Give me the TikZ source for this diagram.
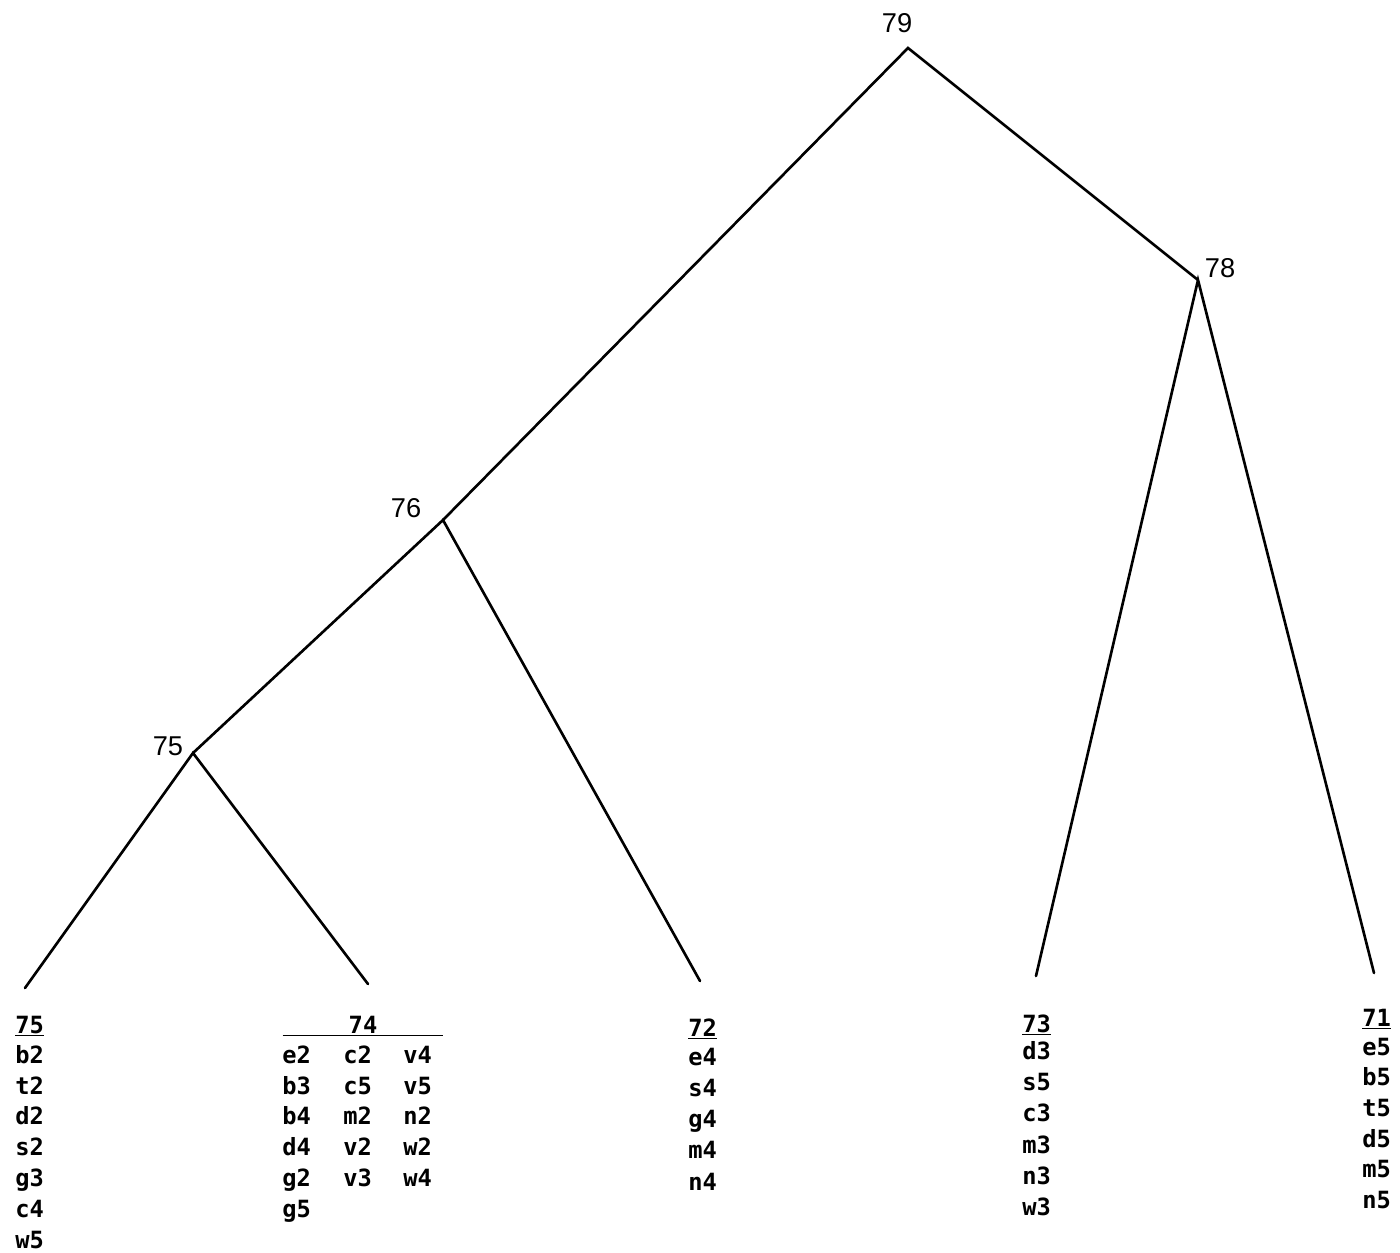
\documentclass[tikz,border=0pt]{standalone}
\usepackage{fontspec}
\setmainfont{Liberation Sans}
\newfontfamily\dotfont{DejaVu Sans Mono}
\begin{document}
\begin{tikzpicture} [
        x=0.02cm, y=-0.02cm,
        branch/.style={line width=1.5pt, line cap=round},
        lvllabel/.style={font=\fontsize{15.5}{18}\selectfont, inner sep=0pt},
        item/.style={font=\dotfont\bfseries\fontsize{13.5}{16}\selectfont,
            inner sep=0pt, text height=9.5pt, text depth=0pt, anchor=west},
        head/.style={item},
        uline/.style={line width=1.1pt}
    ]
    \useasboundingbox (0,0) rectangle (1400,1252);

        % Verzweigungspunkte, 1 Einheit = 1 Pixel

    \coordinate (n79) at (908,48);
    \coordinate (n78) at (1198,280);
    \coordinate (n76) at (443,520);
    \coordinate (n75) at (193,753);
    \coordinate (leaf75) at (25,988);
    \coordinate (leaf74) at (368,984);
    \coordinate (leaf72) at (700,981);
    \coordinate (leaf73) at (1036,976);
    \coordinate (leaf71) at (1374,973);

    \draw[branch] (leaf75) -- (n75) -- (leaf74);
    \draw[branch] (n75) -- (n76) -- (leaf72);
    \draw[branch] (n76) -- (n79) -- (n78);
    \draw[branch] (leaf73) -- (n78) -- (leaf71);

    \node[lvllabel] (t79) at (897,23) {79};
    \node[lvllabel] (t78) at (1220,268) {78};
    \node[lvllabel] (t76) at (406,508) {76};
    \node[lvllabel] (t75) at (168,746) {75};

        % Gruppen unter den Blaettern

    \node[head] (h75) at (15,1025) {75};
    \draw[uline] ([yshift=-1pt]h75.south west) -- ([yshift=-1pt]h75.south east);
    \foreach \t [count=\i] in {b2,t2,d2,s2,g3,c4,w5}
        \node[item] (c75-\i) at (15,{1055+30.8*(\i-1)}) {\t};

    \node[head, anchor=center, minimum width=3.2cm] (h74) at (363,1025) {74};
    \draw[uline] ([yshift=-1pt]h74.south west) -- ([yshift=-1pt]h74.south east);
    \foreach \t [count=\i] in {e2,b3,b4,d4,g2,g5}
        \node[item] (c74a-\i) at (282,{1055+30.8*(\i-1)}) {\t};
    \foreach \t [count=\i] in {c2,c5,m2,v2,v3}
        \node[item] (c74b-\i) at (343,{1055+30.8*(\i-1)}) {\t};
    \foreach \t [count=\i] in {v4,v5,n2,w2,w4}
        \node[item] (c74c-\i) at (403,{1055+30.8*(\i-1)}) {\t};

    \node[head] (h72) at (688,1028) {72};
    \draw[uline] ([yshift=-1pt]h72.south west) -- ([yshift=-1pt]h72.south east);
    \foreach \t [count=\i] in {e4,s4,g4,m4,n4}
        \node[item] (c72-\i) at (688,{1057+31.2*(\i-1)}) {\t};

    \node[head] (h73) at (1022,1024) {73};
    \draw[uline] ([yshift=-1pt]h73.south west) -- ([yshift=-1pt]h73.south east);
    \foreach \t [count=\i] in {d3,s5,c3,m3,n3,w3}
        \node[item] (c73-\i) at (1022,{1051+31.3*(\i-1)}) {\t};

    \node[head] (h71) at (1362,1018) {71};
    \draw[uline] ([yshift=-1pt]h71.south west) -- ([yshift=-1pt]h71.south east);
    \foreach \t [count=\i] in {e5,b5,t5,d5,m5,n5}
        \node[item] (c71-\i) at (1362,{1047+30.6*(\i-1)}) {\t};

    \end{tikzpicture}
\end{document}
